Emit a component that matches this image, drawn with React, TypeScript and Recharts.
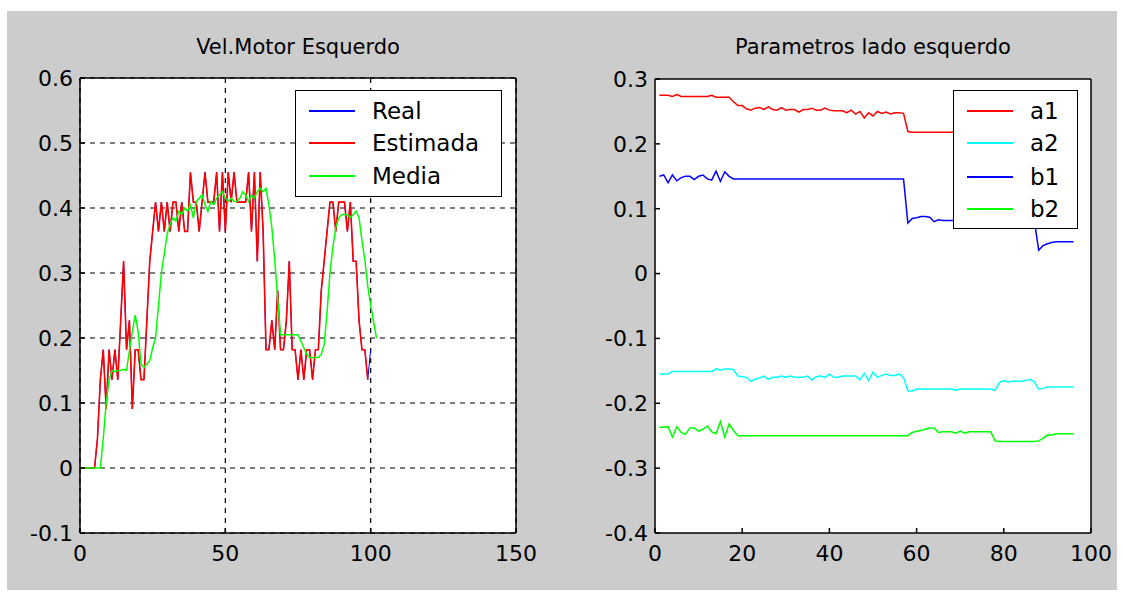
import { LineChart, Line, XAxis, YAxis, CartesianGrid, Legend } from 'recharts';

// left plot: motor speed, sample index 0..n
const estimadaVel = [
  0, 0, 0, 0, 0, 0, 0.045, 0.136, 0.182, 0.091,
  0.182, 0.136, 0.182, 0.136, 0.227, 0.318, 0.182, 0.227, 0.091, 0.182,
  0.182, 0.136, 0.136, 0.227, 0.318, 0.364, 0.409, 0.364, 0.409, 0.364,
  0.409, 0.364, 0.409, 0.409, 0.364, 0.409, 0.364, 0.364, 0.455, 0.409,
  0.409, 0.364, 0.409, 0.455, 0.409, 0.409, 0.409, 0.455, 0.364, 0.455,
  0.364, 0.455, 0.409, 0.455, 0.409, 0.409, 0.409, 0.409, 0.455, 0.364,
  0.455, 0.318, 0.455, 0.364, 0.182, 0.182, 0.227, 0.182, 0.273, 0.182,
  0.182, 0.227, 0.318, 0.182, 0.182, 0.136, 0.182, 0.136, 0.182, 0.182,
  0.136, 0.182, 0.182, 0.273, 0.318, 0.364, 0.409, 0.409, 0.364, 0.409,
  0.409, 0.409, 0.364, 0.409, 0.318, 0.318, 0.227, 0.182, 0.182, 0.136,
];
const realVel = [...estimadaVel, 0.182];
const mediaVel = [
  0, 0, 0, 0, 0, 0, 0, 0, 0.045, 0.1,
  0.136, 0.15, 0.148, 0.15, 0.15, 0.152, 0.15, 0.18, 0.21, 0.235,
  0.21, 0.16, 0.155, 0.16, 0.165, 0.185, 0.2, 0.25, 0.3, 0.33,
  0.36, 0.375, 0.385, 0.38, 0.395, 0.39, 0.4, 0.395, 0.405, 0.385,
  0.41, 0.415, 0.42, 0.405, 0.395, 0.41, 0.405, 0.415, 0.42, 0.425,
  0.415, 0.41, 0.415, 0.41, 0.41, 0.415, 0.425, 0.42, 0.41, 0.42,
  0.415, 0.425, 0.43, 0.425, 0.43, 0.405, 0.37, 0.32, 0.26, 0.205,
  0.205, 0.205, 0.205, 0.205, 0.205, 0.205, 0.195, 0.185, 0.175, 0.17,
  0.17, 0.17, 0.17, 0.175, 0.19, 0.24, 0.3, 0.34, 0.37, 0.385,
  0.39, 0.39, 0.39, 0.385, 0.39, 0.395, 0.385, 0.35, 0.32, 0.28,
  0.25, 0.225, 0.2,
];
const velXTicks = [0, 50, 100, 150];
const velYTicks = [-0.1, 0, 0.1, 0.2, 0.3, 0.4, 0.5, 0.6];

// right plot: parameters, sample 1..96
const a1 = [
  0.275, 0.275, 0.275, 0.273, 0.276, 0.273, 0.273, 0.273, 0.273, 0.273,
  0.273, 0.273, 0.275, 0.272, 0.272, 0.272, 0.272, 0.265, 0.259, 0.259,
  0.254, 0.252, 0.255, 0.256, 0.253, 0.257, 0.253, 0.252, 0.256, 0.252,
  0.253, 0.253, 0.249, 0.253, 0.253, 0.255, 0.252, 0.252, 0.255, 0.252,
  0.251, 0.251, 0.251, 0.248, 0.252, 0.246, 0.25, 0.24, 0.248, 0.243,
  0.25, 0.247, 0.249, 0.246, 0.248, 0.248, 0.247, 0.219, 0.218, 0.218,
  0.218, 0.218, 0.218, 0.218, 0.218, 0.218, 0.218, 0.218, 0.218, 0.218,
  0.218, 0.218, 0.218, 0.218, 0.218, 0.218, 0.218, 0.218, 0.218, 0.218,
  0.218, 0.218, 0.218, 0.218, 0.218, 0.218, 0.218, 0.218, 0.218, 0.218,
  0.218, 0.218, 0.218, 0.218, 0.218, 0.218,
];
const a2 = [
  -0.155, -0.155, -0.155, -0.151, -0.151, -0.151, -0.151, -0.151, -0.151, -0.151,
  -0.151, -0.151, -0.151, -0.147, -0.149, -0.147, -0.147, -0.148, -0.158, -0.159,
  -0.16, -0.166, -0.163, -0.161, -0.158, -0.163, -0.16, -0.16, -0.158, -0.16,
  -0.158, -0.16, -0.16, -0.16, -0.158, -0.164, -0.159, -0.158, -0.16, -0.155,
  -0.16, -0.16, -0.158, -0.158, -0.158, -0.158, -0.164, -0.154, -0.165, -0.152,
  -0.16, -0.157, -0.155, -0.157, -0.157, -0.155, -0.16, -0.181, -0.181, -0.178,
  -0.178, -0.178, -0.178, -0.178, -0.178, -0.178, -0.178, -0.178, -0.18, -0.178,
  -0.178, -0.178, -0.178, -0.178, -0.178, -0.178, -0.178, -0.18, -0.168, -0.165,
  -0.167, -0.166, -0.166, -0.166, -0.165, -0.163, -0.167, -0.178, -0.177, -0.175,
  -0.175, -0.175, -0.175, -0.175, -0.175, -0.175,
];
const b1 = [
  0.15, 0.152, 0.14, 0.152, 0.143, 0.148, 0.15, 0.15, 0.145, 0.15,
  0.152, 0.146, 0.144, 0.158, 0.142, 0.157, 0.15, 0.146, 0.146, 0.146,
  0.146, 0.146, 0.146, 0.146, 0.146, 0.146, 0.146, 0.146, 0.146, 0.146,
  0.146, 0.146, 0.146, 0.146, 0.146, 0.146, 0.146, 0.146, 0.146, 0.146,
  0.146, 0.146, 0.146, 0.146, 0.146, 0.146, 0.146, 0.146, 0.146, 0.146,
  0.146, 0.146, 0.146, 0.146, 0.146, 0.146, 0.146, 0.078, 0.085, 0.086,
  0.088, 0.088, 0.087, 0.08, 0.083, 0.082, 0.082, 0.082, 0.082, 0.082,
  0.082, 0.082, 0.082, 0.082, 0.082, 0.082, 0.082, 0.082, 0.082, 0.082,
  0.082, 0.082, 0.082, 0.082, 0.082, 0.082, 0.082, 0.036, 0.043, 0.046,
  0.048, 0.049, 0.049, 0.049, 0.049, 0.049,
];
const b2 = [
  -0.237, -0.237, -0.236, -0.252, -0.236, -0.245, -0.248, -0.238, -0.238, -0.243,
  -0.24, -0.235, -0.244, -0.247, -0.228, -0.252, -0.232, -0.242, -0.25, -0.25,
  -0.25, -0.25, -0.25, -0.25, -0.25, -0.25, -0.25, -0.25, -0.25, -0.25,
  -0.25, -0.25, -0.25, -0.25, -0.25, -0.25, -0.25, -0.25, -0.25, -0.25,
  -0.25, -0.25, -0.25, -0.25, -0.25, -0.25, -0.25, -0.25, -0.25, -0.25,
  -0.25, -0.25, -0.25, -0.25, -0.25, -0.25, -0.25, -0.25, -0.245, -0.243,
  -0.242, -0.24, -0.238, -0.238, -0.245, -0.244, -0.244, -0.244, -0.246, -0.243,
  -0.246, -0.244, -0.244, -0.244, -0.244, -0.244, -0.244, -0.258, -0.259, -0.259,
  -0.259, -0.259, -0.259, -0.259, -0.259, -0.259, -0.259, -0.258, -0.254, -0.249,
  -0.249, -0.247, -0.247, -0.247, -0.247, -0.247,
];
const parXTicks = [0, 20, 40, 60, 80, 100];
const parYTicks = [-0.4, -0.3, -0.2, -0.1, 0, 0.1, 0.2, 0.3];

const velSeries = [
  { key: 'real', name: 'Real', color: '#0000ff', width: 1 },
  { key: 'est', name: 'Estimada', color: '#ff0000', width: 1.6 },
  { key: 'media', name: 'Media', color: '#00ff00', width: 1.5 },
];
const parSeries = [
  { key: 'a1', name: 'a1', color: '#ff0000', width: 1.5 },
  { key: 'a2', name: 'a2', color: '#00ffff', width: 1.5 },
  { key: 'b1', name: 'b1', color: '#0000ff', width: 1.5 },
  { key: 'b2', name: 'b2', color: '#00ff00', width: 1.5 },
];

const velData = mediaVel.map((m, i) => ({ x: i, real: realVel[i], est: estimadaVel[i], media: m }));
const parData = a1.map((v, i) => ({ x: i + 1, a1: v, a2: a2[i], b1: b1[i], b2: b2[i] }));

const FONT = '"DejaVu Sans", Verdana, sans-serif';
const fmt = (v: number) => (v === 0 ? '0' : String(v));
const tickStyle = { fill: '#000', fontSize: 22, fontFamily: FONT };

function LegendBox({ items, rowTops }: { items: typeof velSeries; rowTops: number[] }) {
  return (
    <div
      style={{
        position: 'relative',
        width: '100%',
        height: '100%',
        boxSizing: 'border-box',
        border: '1.5px solid #000',
        background: '#fff',
        fontFamily: FONT,
        fontSize: 23,
        color: '#000',
      }}
    >
      {items.map((s, i) => (
        <div key={s.key}>
          <div
            style={{
              position: 'absolute',
              left: 13,
              top: rowTops[i] - 1,
              width: 46,
              height: 1.5,
              background: s.color,
            }}
          />
          <div style={{ position: 'absolute', left: 76, top: rowTops[i] - 15, lineHeight: '30px' }}>{s.name}</div>
        </div>
      ))}
    </div>
  );
}

function Title({ left, width, text }: { left: number; width: number; text: string }) {
  return (
    <div
      style={{
        position: 'absolute',
        left,
        top: 34,
        width,
        textAlign: 'center',
        fontFamily: FONT,
        fontSize: 21,
        lineHeight: '26px',
        color: '#000',
      }}
    >
      {text}
    </div>
  );
}

export default function App() {
  return (
    <div style={{ position: 'absolute', left: 0, top: 0, width: 1123, height: 597, background: '#fff' }}>
      <div style={{ position: 'absolute', left: 7, top: 11, width: 1110, height: 579, background: '#cccccc' }} />

      <Title left={80} width={436} text="Vel.Motor Esquerdo" />
      <div style={{ position: 'absolute', left: 0, top: 0 }}>
        <LineChart width={560} height={597} data={velData} margin={{ top: 68, right: 34, left: 0, bottom: 0 }}>
          <CartesianGrid
            xAxisId="b"
            yAxisId="l"
            fill="#fff"
            stroke="#000"
            strokeDasharray="5 5"
            strokeWidth={1.2}
          />
          <XAxis
            xAxisId="b"
            dataKey="x"
            type="number"
            domain={[0, 150]}
            ticks={velXTicks}
            height={64}
            tickSize={-5}
            tickMargin={17}
            tick={tickStyle}
            stroke="#000"
            strokeWidth={1.5}
          />
          <XAxis
            xAxisId="t"
            orientation="top"
            dataKey="x"
            type="number"
            domain={[0, 150]}
            ticks={velXTicks}
            height={10}
            tickSize={-5}
            tick={false}
            stroke="#000"
            strokeWidth={1.5}
          />
          <YAxis
            yAxisId="l"
            type="number"
            domain={[-0.1, 0.6]}
            ticks={velYTicks}
            width={80}
            tickSize={-5}
            tickMargin={12}
            tick={tickStyle}
            tickFormatter={fmt}
            stroke="#000"
            strokeWidth={1.5}
          />
          <YAxis
            yAxisId="r"
            orientation="right"
            type="number"
            domain={[-0.1, 0.6]}
            ticks={velYTicks}
            width={10}
            tickSize={-5}
            tick={false}
            stroke="#000"
            strokeWidth={1.5}
          />
          {velSeries.map((s) => (
            <Line
              key={s.key}
              xAxisId="b"
              yAxisId="l"
              dataKey={s.key}
              name={s.name}
              stroke={s.color}
              strokeWidth={s.width}
              dot={false}
              type="linear"
              isAnimationActive={false}
            />
          ))}
          <Legend
            layout="horizontal"
            verticalAlign="middle"
            align="center"
            wrapperStyle={{ left: 295, top: 90, width: 207, height: 107 }}
            content={() => <LegendBox items={velSeries} rowTops={[20, 52, 85]} />}
          />
        </LineChart>
      </div>

      <Title left={655} width={436} text="Parametros lado esquerdo" />
      <div style={{ position: 'absolute', left: 570, top: 0 }}>
        <LineChart width={553} height={597} data={parData} margin={{ top: 69, right: 22, left: 0, bottom: 0 }}>
          <CartesianGrid xAxisId="b" yAxisId="l" fill="#fff" horizontal={false} vertical={false} />
          <XAxis
            xAxisId="b"
            dataKey="x"
            type="number"
            domain={[0, 100]}
            ticks={parXTicks}
            height={64}
            tickSize={-5}
            tickMargin={17}
            tick={tickStyle}
            stroke="#000"
            strokeWidth={1.5}
          />
          <XAxis
            xAxisId="t"
            orientation="top"
            dataKey="x"
            type="number"
            domain={[0, 100]}
            ticks={parXTicks}
            height={10}
            tickSize={-5}
            tick={false}
            stroke="#000"
            strokeWidth={1.5}
          />
          <YAxis
            yAxisId="l"
            type="number"
            domain={[-0.4, 0.3]}
            ticks={parYTicks}
            width={85}
            tickSize={-5}
            tickMargin={12}
            tick={tickStyle}
            tickFormatter={fmt}
            stroke="#000"
            strokeWidth={1.5}
          />
          <YAxis
            yAxisId="r"
            orientation="right"
            type="number"
            domain={[-0.4, 0.3]}
            ticks={parYTicks}
            width={10}
            tickSize={-5}
            tick={false}
            stroke="#000"
            strokeWidth={1.5}
          />
          {parSeries.map((s) => (
            <Line
              key={s.key}
              xAxisId="b"
              yAxisId="l"
              dataKey={s.key}
              name={s.name}
              stroke={s.color}
              strokeWidth={s.width}
              dot={false}
              type="linear"
              isAnimationActive={false}
            />
          ))}
          <Legend
            layout="horizontal"
            verticalAlign="middle"
            align="center"
            wrapperStyle={{ left: 383, top: 90, width: 125, height: 139 }}
            content={() => <LegendBox items={parSeries} rowTops={[20, 52, 86, 118]} />}
          />
        </LineChart>
      </div>
    </div>
  );
}
